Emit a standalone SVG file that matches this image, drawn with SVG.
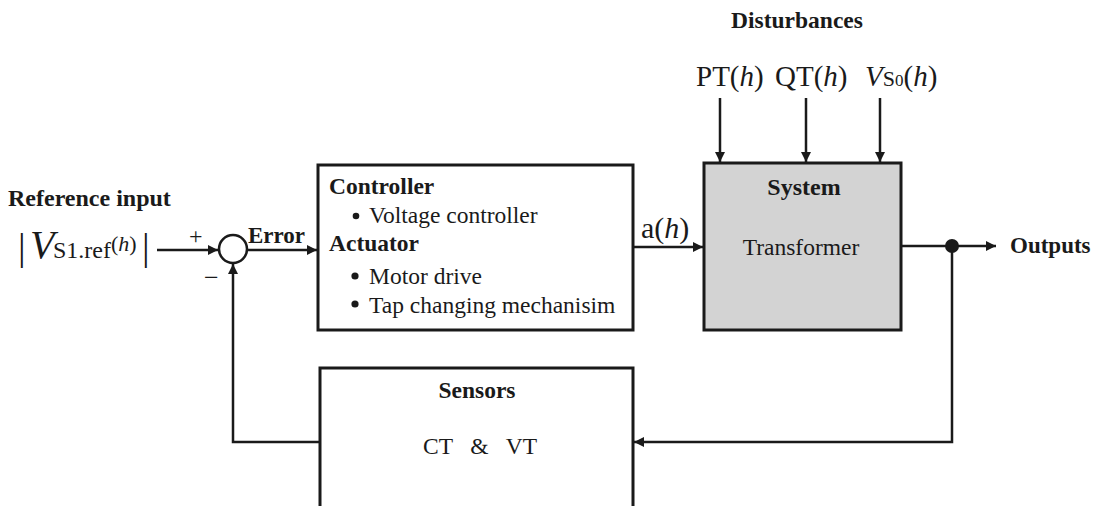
<svg xmlns="http://www.w3.org/2000/svg" width="1096" height="506" viewBox="0 0 1096 506">
<defs>
<style>
.t{font-family:"Liberation Serif","Times New Roman",serif;fill:#1a1a1a}
.b{font-weight:bold}
.box{fill:#fff;stroke:#1a1a1a;stroke-width:3}
.ln{fill:none;stroke:#1a1a1a;stroke-width:2.5}
</style>
<marker id="ah" viewBox="0 0 10 10" refX="10" refY="5" markerWidth="4.4" markerHeight="4" orient="auto" markerUnits="strokeWidth">
<path d="M0,0 L10,5 L0,10 z" fill="#1a1a1a"/>
</marker>
</defs>
<rect width="1096" height="506" fill="#fff"/>

<g id="labels">
<text class="t b" x="797" y="28" font-size="23.5" text-anchor="middle">Disturbances</text>
<text class="t b" x="8" y="206" font-size="24">Reference input</text>
<text class="t" font-size="38"><tspan x="18" y="260">|</tspan><tspan x="30" y="258" font-size="40" font-style="italic">V</tspan><tspan x="53" y="258" font-size="24">S1.ref</tspan><tspan x="111" y="251" font-size="22">(<tspan font-style="italic">h</tspan>)</tspan><tspan x="142" y="260">|</tspan></text>
<text class="t" x="189" y="244" font-size="24">+</text>
<text class="t" x="204" y="286" font-size="26">−</text>
<text class="t b" x="248" y="243" font-size="23">Error</text>
<text class="t" x="641" y="238" font-size="30">a(<tspan font-style="italic">h</tspan>)</text>
<text class="t" x="696" y="86" font-size="29">PT(<tspan font-style="italic">h</tspan>)</text>
<text class="t" x="775" y="86" font-size="29">QT(<tspan font-style="italic">h</tspan>)</text>
<text class="t" x="865" y="86" font-size="29"><tspan font-style="italic">V</tspan><tspan font-size="22">S</tspan><tspan font-size="17">0</tspan>(<tspan font-style="italic">h</tspan>)</text>
<text class="t b" x="1010" y="253" font-size="23">Outputs</text>
</g>

<g id="sum">
<circle cx="233" cy="249" r="14" fill="#fff" stroke="#1a1a1a" stroke-width="2.5"/>
</g>

<g id="controller">
<rect class="box" x="318" y="165" width="315" height="165"/>
<text class="t b" x="329" y="194" font-size="23.5">Controller</text>
<circle cx="356" cy="216" r="3.3" fill="#1a1a1a"/>
<text class="t" x="369" y="223" font-size="23.5">Voltage controller</text>
<text class="t b" x="329" y="251" font-size="23.5">Actuator</text>
<circle cx="355" cy="276" r="3.6" fill="#1a1a1a"/>
<text class="t" x="369" y="284" font-size="23.5">Motor drive</text>
<circle cx="355" cy="304" r="3.6" fill="#1a1a1a"/>
<text class="t" x="369" y="313" font-size="23.5">Tap changing mechanisim</text>
</g>

<g id="system">
<rect x="704" y="163" width="197" height="167" fill="#d3d3d3" stroke="#1a1a1a" stroke-width="3"/>
<text class="t b" x="804" y="195" font-size="24" text-anchor="middle">System</text>
<text class="t" x="801" y="255" font-size="23.5" text-anchor="middle">Transformer</text>
</g>

<g id="sensors">
<path d="M320,506 V368 H633 V506" fill="#fff" stroke="#1a1a1a" stroke-width="3"/>
<text class="t b" x="477" y="398" font-size="23.5" text-anchor="middle">Sensors</text>
<text class="t" x="480" y="454" font-size="23.5" text-anchor="middle" xml:space="preserve">CT   &amp;   VT</text>
</g>

<g id="connectors">
<line class="ln" x1="157" y1="250" x2="218" y2="250" marker-end="url(#ah)"/>
<line class="ln" x1="247" y1="250" x2="317" y2="250" marker-end="url(#ah)"/>
<line class="ln" x1="633" y1="247" x2="703" y2="247" marker-end="url(#ah)"/>
<line class="ln" x1="720" y1="98" x2="720" y2="162" marker-end="url(#ah)"/>
<line class="ln" x1="806" y1="98" x2="806" y2="162" marker-end="url(#ah)"/>
<line class="ln" x1="880" y1="98" x2="880" y2="162" marker-end="url(#ah)"/>
<line class="ln" x1="901" y1="246" x2="996" y2="246" marker-end="url(#ah)"/>
<circle cx="952" cy="246" r="7" fill="#1a1a1a"/>
<polyline class="ln" points="952,246 952,442 634,442" marker-end="url(#ah)"/>
<polyline class="ln" points="320,442 233,442 233,264" marker-end="url(#ah)"/>
</g>
</svg>
